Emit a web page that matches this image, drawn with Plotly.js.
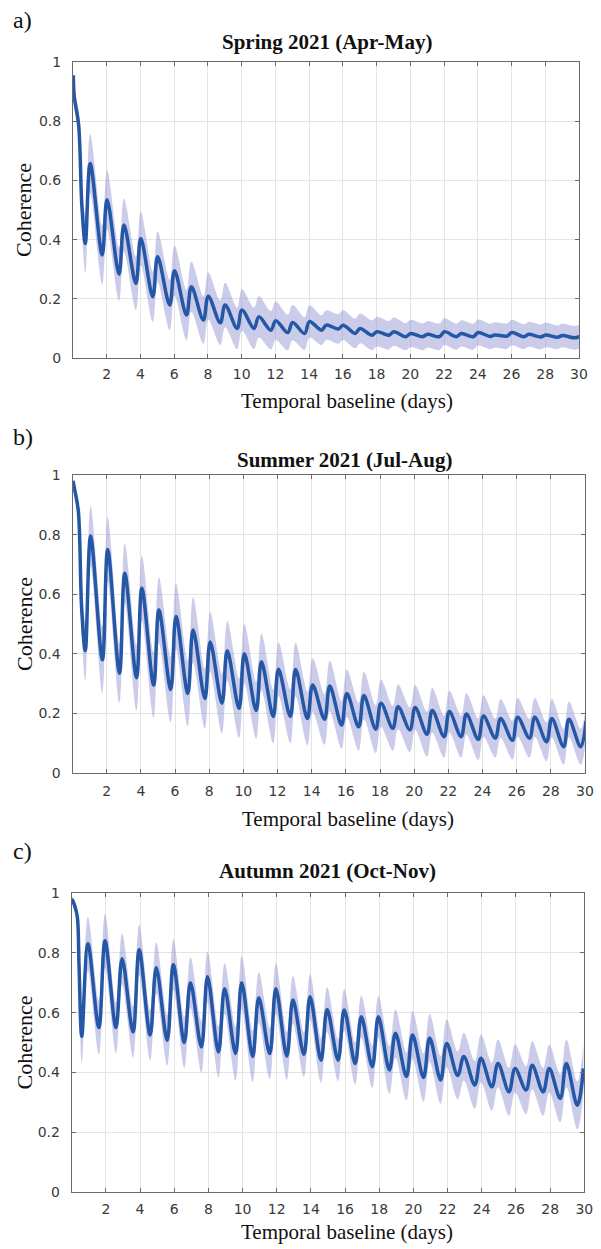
<!DOCTYPE html>
<html>
<head>
<meta charset="utf-8">
<script src="https://cdn.plot.ly/plotly-3.0.1.min.js"></script>
<style>
html,body{margin:0;padding:0;background:#fff;}
#chart{width:601px;height:1249px;}
</style>
</head>
<body>
<div id="chart"></div>
<script>
// ---------- data ----------
const days = [1,2,3,4,5,6,7,8,9,10,11,12,13,14,15,16,17,18,19,20,21,22,23,24,25,26,27,28,29,30];
const xTickVals = [2,4,6,8,10,12,14,16,18,20,22,24,26,28,30];
const yTickVals = [0,0.2,0.4,0.6,0.8,1];
const yTickText = ['0','0.2','0.4','0.6','0.8','1'];
const panelTitles = ['Spring 2021 (Apr-May)','Summer 2021 (Jul-Aug)','Autumn 2021 (Oct-Nov)'];
const panelLabels = ['a)','b)','c)'];
const xAxisTitle = 'Temporal baseline (days)';
const yAxisTitle = 'Coherence';

// Spring: first hours, then daily troughs / peaks and band half-width
const springLeadX = [0.02,0.08,0.33,0.53];
const springLeadY = [0.955,0.88,0.79,0.51];
const springLeadSpread = [0.02,0.03,0.05,0.08];
const springTroughOffset = -0.27;
const springPeakOffset = 0.02;
const springTrough = [0.387,0.348,0.283,0.252,0.207,0.179,0.145,0.128,0.119,0.100,0.100,0.094,0.086,0.083,0.094,0.098,0.083,0.077,0.077,0.072,0.072,0.072,0.072,0.072,0.073,0.074,0.072,0.071,0.070,0.068];
const springPeak   = [0.657,0.535,0.449,0.404,0.342,0.295,0.241,0.209,0.179,0.162,0.139,0.126,0.120,0.123,0.111,0.111,0.100,0.089,0.089,0.083,0.080,0.089,0.083,0.086,0.078,0.086,0.080,0.078,0.076,0.072];
const springSpread = [0.10,0.10,0.09,0.09,0.085,0.085,0.085,0.08,0.075,0.07,0.07,0.065,0.06,0.055,0.05,0.05,0.05,0.05,0.048,0.046,0.045,0.045,0.044,0.044,0.043,0.043,0.042,0.042,0.04,0.04];

// Summer
const summerLeadX = [0.03,0.15,0.34,0.54];
const summerLeadY = [0.98,0.944,0.88,0.547];
const summerLeadSpread = [0.01,0.02,0.04,0.08];
const summerTroughOffset = -0.25;
const summerPeakOffset = 0.06;
const summerTrough = [0.41,0.38,0.335,0.32,0.295,0.28,0.267,0.25,0.234,0.217,0.21,0.19,0.19,0.183,0.18,0.161,0.155,0.147,0.15,0.145,0.13,0.122,0.122,0.113,0.117,0.11,0.117,0.105,0.088,0.088];
const summerPeak   = [0.795,0.75,0.67,0.62,0.547,0.525,0.48,0.44,0.41,0.40,0.373,0.348,0.347,0.295,0.292,0.267,0.26,0.234,0.222,0.22,0.21,0.206,0.198,0.191,0.183,0.187,0.187,0.183,0.18,0.175];
const summerSpread = [0.10,0.11,0.10,0.11,0.11,0.11,0.11,0.10,0.10,0.10,0.095,0.09,0.09,0.09,0.085,0.08,0.08,0.08,0.075,0.075,0.075,0.07,0.07,0.07,0.065,0.065,0.065,0.065,0.06,0.06];

// Autumn
const autumnLeadX = [0.01,0.19,0.33,0.43];
const autumnLeadY = [0.98,0.954,0.92,0.754];
const autumnLeadSpread = [0.01,0.02,0.03,0.06];
const autumnTroughOffset = -0.41;
const autumnPeakOffset = -0.05;
const autumnTrough = [0.52,0.55,0.55,0.535,0.525,0.507,0.50,0.485,0.468,0.463,0.453,0.463,0.455,0.46,0.441,0.441,0.43,0.419,0.408,0.386,0.383,0.375,0.39,0.358,0.352,0.335,0.341,0.335,0.313,0.29];
const autumnPeak   = [0.83,0.84,0.78,0.81,0.75,0.76,0.70,0.72,0.68,0.70,0.65,0.68,0.642,0.653,0.61,0.609,0.586,0.586,0.531,0.525,0.515,0.497,0.453,0.447,0.43,0.413,0.424,0.413,0.43,0.413];
const autumnSpread = [0.09,0.09,0.085,0.085,0.085,0.085,0.085,0.085,0.085,0.09,0.085,0.085,0.08,0.075,0.075,0.07,0.07,0.07,0.08,0.08,0.08,0.08,0.08,0.08,0.08,0.08,0.08,0.08,0.08,0.08];

// ---------- build ----------
function buildSeries(leadX, leadY, leadSpread, trough, peak, spread, tOff, pOff){
  const x = [], y = [], up = [], lo = [];
  for (let i = 0; i < leadX.length; i++){
    x.push(leadX[i]); y.push(leadY[i]);
    up.push(leadY[i] + leadSpread[i]); lo.push(leadY[i] - leadSpread[i]);
  }
  for (let i = 0; i < days.length; i++){
    const d = days[i];
    x.push(d + tOff); y.push(trough[i]);
    up.push(trough[i] + spread[i]); lo.push(trough[i] - spread[i]);
    x.push(d + pOff); y.push(peak[i]);
    up.push(peak[i] + spread[i]); lo.push(peak[i] - spread[i]);
  }
  return {x, y, up, lo};
}

const series = [
  buildSeries(springLeadX, springLeadY, springLeadSpread, springTrough, springPeak, springSpread, springTroughOffset, springPeakOffset),
  buildSeries(summerLeadX, summerLeadY, summerLeadSpread, summerTrough, summerPeak, summerSpread, summerTroughOffset, summerPeakOffset),
  buildSeries(autumnLeadX, autumnLeadY, autumnLeadSpread, autumnTrough, autumnPeak, autumnSpread, autumnTroughOffset, autumnPeakOffset)
];

const W = 601, H = 1249;
const fx = p => p / W;
const fy = p => 1 - p / H;

// pixel geometry of the three plot boxes and their texts
const boxes = [
  {l:73,   r:579,   t:62,  b:358,  titleX:327, titleY:42,  xtX:347, xtY:401,  labY:20,  stand:3},
  {l:72.5, r:585,   t:475, b:773,  titleX:344, titleY:460, xtX:348, xtY:819,  labY:437, stand:5},
  {l:71.7, r:584.3, t:893, b:1192, titleX:327, titleY:871, xtX:347, xtY:1232, labY:851, stand:4}
];

const lineColor = '#2457a6';
const bandColor = 'rgba(140,140,208,0.45)';
const serif = '"Liberation Serif", "Times New Roman", serif';
const sans = '"DejaVu Sans", Verdana, sans-serif';

const traces = [];
const layout = {
  width: W, height: H,
  margin: {l:0, r:0, t:0, b:0},
  paper_bgcolor: '#fff', plot_bgcolor: '#fff',
  showlegend: false,
  annotations: []
};

series.forEach((s, i) => {
  const n = i === 0 ? '' : String(i + 1);
  const xa = 'x' + n, ya = 'y' + n;
  traces.push({x: s.x, y: s.lo, xaxis: xa, yaxis: ya, type: 'scatter', mode: 'lines',
    line: {width: 0, shape: 'spline', smoothing: 1}, hoverinfo: 'skip'});
  traces.push({x: s.x, y: s.up, xaxis: xa, yaxis: ya, type: 'scatter', mode: 'lines',
    line: {width: 0, shape: 'spline', smoothing: 1}, fill: 'tonexty', fillcolor: bandColor, hoverinfo: 'skip'});
  traces.push({x: s.x, y: s.y, xaxis: xa, yaxis: ya, type: 'scatter', mode: 'lines',
    line: {width: 3.5, color: lineColor, shape: 'spline', smoothing: 1}});

  const b = boxes[i];
  const axCommon = {
    showline: true, linecolor: '#6b6b6b', linewidth: 1, mirror: 'ticks',
    ticks: 'inside', ticklen: 4, tickcolor: '#6b6b6b', tickwidth: 1,
    showgrid: true, gridcolor: '#e4e4e4', gridwidth: 1, zeroline: false,
    tickfont: {family: sans, size: 14, color: '#3a3a3a'}, fixedrange: true
  };
  layout['xaxis' + n] = Object.assign({}, axCommon, {
    domain: [fx(b.l), fx(b.r)], anchor: ya, range: [0, 30],
    tickmode: 'array', tickvals: xTickVals, ticklabelstandoff: b.stand
  });
  layout['yaxis' + n] = Object.assign({}, axCommon, {
    domain: [fy(b.b), fy(b.t)], anchor: xa, range: [0, 1],
    tickmode: 'array', tickvals: yTickVals, ticktext: yTickText, ticklabelstandoff: 8
  });

  layout.annotations.push({xref:'paper', yref:'paper', x: fx(b.titleX), y: fy(b.titleY),
    xanchor:'center', yanchor:'middle', showarrow:false, text:'<b>' + panelTitles[i] + '</b>',
    font:{family: serif, size: 21, color:'#111'}});
  layout.annotations.push({xref:'paper', yref:'paper', x: fx(b.xtX), y: fy(b.xtY),
    xanchor:'center', yanchor:'middle', showarrow:false, text: xAxisTitle,
    font:{family: serif, size: 21, color:'#111'}});
  layout.annotations.push({xref:'paper', yref:'paper', x: fx(24), y: fy((b.t + b.b) / 2),
    xanchor:'center', yanchor:'middle', showarrow:false, text: yAxisTitle, textangle: -90,
    font:{family: serif, size: 22, color:'#111'}});
  layout.annotations.push({xref:'paper', yref:'paper', x: fx(11), y: fy(b.labY),
    xanchor:'left', yanchor:'middle', showarrow:false, text: panelLabels[i],
    font:{family: serif, size: 24, color:'#111'}});
});

Plotly.newPlot('chart', traces, layout, {staticPlot: true, displayModeBar: false});
</script>
</body>
</html>
